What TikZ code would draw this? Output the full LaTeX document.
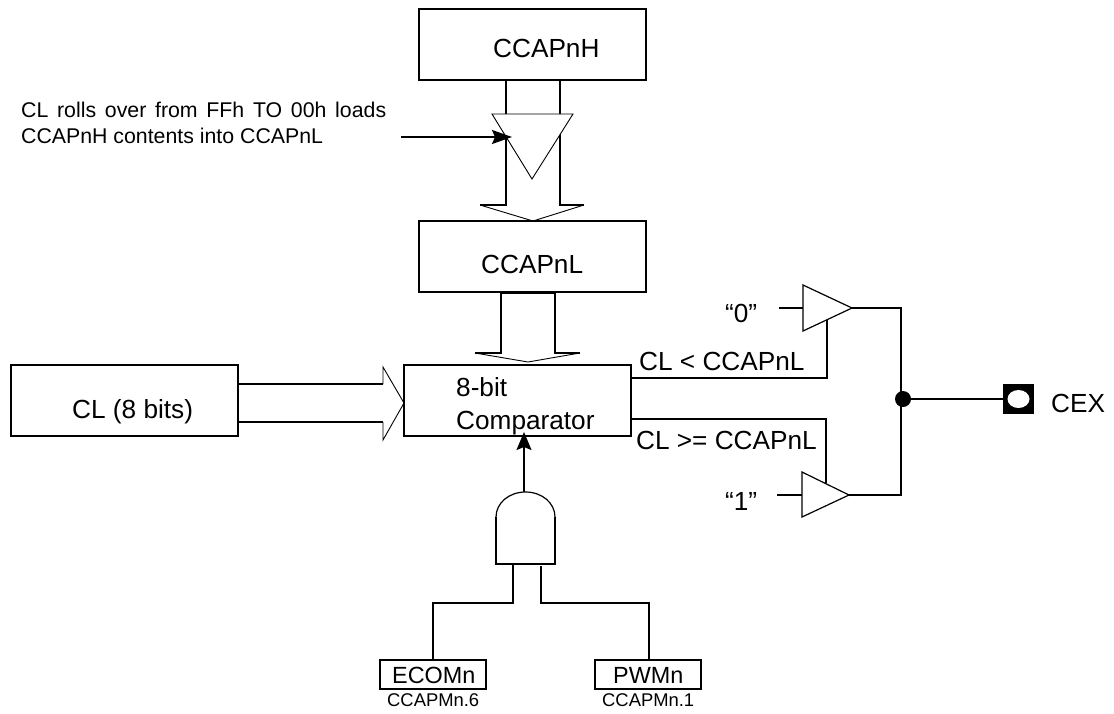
\documentclass[tikz,border=0pt]{standalone}
\usepackage{fontspec}
\setmainfont{Liberation Sans}
\usetikzlibrary{arrows.meta}
\newcommand{\bigtext}{\fontsize{26.2}{33}\selectfont}
\newcommand{\midtext}{\fontsize{21.3}{26}\selectfont}
\newcommand{\regtext}{\fontsize{23.4}{28}\selectfont}
\newcommand{\tinytext}{\fontsize{18.4}{22}\selectfont}
\tikzset{
  regbox/.style={draw, line width=1.7pt, minimum width=227pt, minimum height=71pt, inner sep=0pt, outer sep=0pt},
  flagbox/.style={draw, line width=1.7pt, minimum width=106pt, minimum height=29pt, inner sep=0pt, outer sep=0pt},
  bigl/.style={anchor=base west, inner sep=0pt, font=\bigtext},
  wire/.style={line width=1.7pt},
  thinwire/.style={line width=0.9pt},
  gate/.style={line width=1.2pt, fill=white},
  sharp/.style={-{Stealth[length=20pt,width=14pt,inset=3pt]}}
}

\begin{document}
\begin{tikzpicture}[x=1pt,y=-1pt]
\useasboundingbox (0,0) rectangle (1114,713);

% registers
\node[regbox] (ccapnh) at (532.5,44.5) {};
\node[regbox] (ccapnl) at (532.5,256.5) {};
\node[regbox] (comparator) at (517.5,400.5) {};
\node[regbox] (clreg) at (124.5,400.5) {};
\node[bigl] (hlabel) at (493,57) {CCAPnH};
\node[bigl] (llabel) at (481,273) {CCAPnL};
\node[bigl] (cllabel) at (72,418) {CL (8 bits)};
\node[bigl] (cmplabel) at (456,396) {8-bit};
\node[bigl] (cmplabelb) at (456,429) {Comparator};

% CCAPnH to CCAPnL
\draw[wire] (480,205) -- (506,205) -- (506,80) -- (560,80) -- (560,205) -- (584,205);
\draw[thinwire] (480,205) -- (533,221) -- (584,205);
\draw[thinwire, fill=white] (492,114) -- (573,114) -- (532,179) -- cycle;

% load signal
\coordinate (loadin) at (401,137);
\coordinate (loadgate) at (512,137);
\draw[wire, sharp] (loadin) -- (loadgate);
\node[anchor=base west, inner sep=0pt, font=\midtext] (loadtext) at (21,117) {\makebox[365pt][s]{CL rolls over from FFh TO 00h loads}};
\node[anchor=base west, inner sep=0pt, font=\midtext] (loadtextb) at (21,143) {CCAPnH contents into CCAPnL};

% CCAPnL to comparator
\draw[wire] (475,353) -- (501,353) -- (501,293) -- (555,293) -- (555,353) -- (580,353);
\draw[thinwire] (475,353) -- (528,362) -- (580,353);

% CL to comparator
\draw[wire] (238,384) -- (383,384);
\draw[wire] (238,422) -- (383,422);
\draw[thinwire] (383,384) -- (383,367) -- (404,403) -- (383,440) -- (383,422);

% buffers
\draw[gate] (803,285) -- (852,308) -- (803,331) -- cycle;
\draw[gate] (802,472) -- (849,495) -- (802,517) -- cycle;
\coordinate (zeroin) at (779,308);
\coordinate (onein) at (777,495);
\draw[wire] (zeroin) -- (803,308);
\draw[wire] (onein) -- (802,495);
\node[bigl] (zero) at (725,322) {“0”};
\node[bigl] (one) at (725,510) {“1”};

% comparator outputs
\draw[wire] (comparator.east |- 0,378) -- (827,378) -- (827,320);
\draw[wire] (comparator.east |- 0,419) -- (826,419) -- (826,483);
\node[bigl] (ltlabel) at (639,370) {CL < CCAPnL};
\node[bigl] (gelabel) at (636,449) {CL >= CCAPnL};

% CEX
\node[circle, fill, minimum size=16pt, inner sep=0pt] (joint) at (903,399) {};
\node[fill, minimum width=31pt, minimum height=30pt, inner sep=0pt, outer sep=0pt] (cexpin) at (1018.5,399) {};
\fill[white] (cexpin.center) ellipse (11pt and 9pt);
\draw[wire] (852,308) -- (901,308) -- (901,495) -- (849,495);
\draw[wire] (joint) -- (cexpin);
\node[bigl] (cex) at (1051,412) {CEX};

% and gate
\draw[line width=1.7pt] (496,517) -- (496,564) -- (555,564) -- (555,517);
\draw[line width=1.2pt] (496,517) .. controls (496,503) and (509,492) .. (525.5,492) .. controls (542,492) and (555,503) .. (555,517);
\coordinate (andout) at (524,492);
\draw[wire, -{Stealth[length=18pt,width=15pt,inset=3pt]}] (andout) -- (524,432);

% mode bits
\node[flagbox] (ecom) at (433,674.5) {};
\node[flagbox] (pwm) at (648,674.5) {};
\node[anchor=base west, inner sep=0pt, font=\regtext] (ecomlabel) at (392,683) {ECOMn};
\node[anchor=base west, inner sep=0pt, font=\regtext] (pwmlabel) at (613,683) {PWMn};
\node[anchor=base west, inner sep=0pt, font=\tinytext] (ecombit) at (387,706) {CCAPMn.6};
\node[anchor=base west, inner sep=0pt, font=\tinytext] (pwmbit) at (602,706) {CCAPMn.1};
\draw[wire] (513,564) -- (513,603) -- (433,603) -- (ecom.north);
\draw[wire] (541,566) -- (541,603) -- (649,603) -- (pwm.north -| 649,0);
\end{tikzpicture}
\end{document}
